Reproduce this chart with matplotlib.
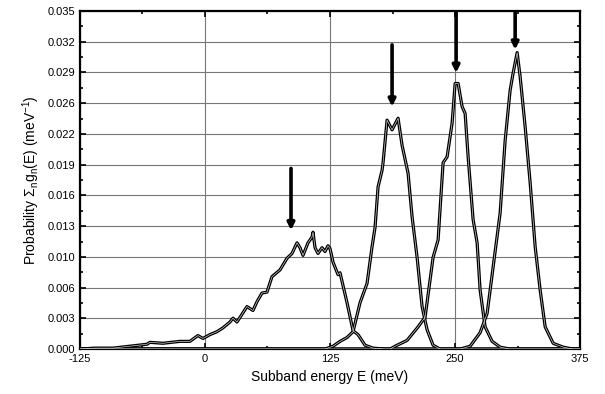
import numpy as np
import matplotlib
matplotlib.use('Agg')
import matplotlib.pyplot as plt
from matplotlib.ticker import FixedLocator, FixedFormatter

plt.rcParams['font.family'] = ['Liberation Sans', 'DejaVu Sans']
plt.rcParams['mathtext.fontset'] = 'custom'
plt.rcParams['mathtext.rm'] = 'Liberation Sans'
plt.rcParams['mathtext.it'] = 'Liberation Sans'
plt.rcParams['mathtext.default'] = 'regular'
plt.rcParams['axes.unicode_minus'] = False

# subband 1 (broad)
e1 = [-125, -110, -92, -75, -58, -55, -42, -25, -15, -7, -2, 5, 12, 18, 25, 28, 32,
      37, 42, 48, 52, 57, 62, 67, 75, 82, 87, 92, 95, 98, 103, 107, 108, 110, 113,
      117, 120, 123, 125, 128, 133, 135, 142, 148, 153, 160, 168, 180, 375]
p1 = [0.0000, 0.0001, 0.0001, 0.0003, 0.0005, 0.0007, 0.0006, 0.0008, 0.0008, 0.0014,
      0.0011, 0.0015, 0.0018, 0.0022, 0.0028, 0.0032, 0.0028, 0.0036, 0.0044, 0.0040,
      0.0049, 0.0058, 0.0059, 0.0075, 0.0082, 0.0094, 0.0099, 0.0110, 0.0105, 0.0097,
      0.0110, 0.0116, 0.0121, 0.0105, 0.0099, 0.0105, 0.0101, 0.0107, 0.0104, 0.0090,
      0.0077, 0.0079, 0.0048, 0.0019, 0.0015, 0.0004, 0.0001, 0.0000, 0.0000]

# subband 2
e2 = [-125, 120, 128, 135, 142, 148, 155, 162, 167, 170, 173, 177, 178, 182, 187,
      193, 197, 203, 207, 212, 217, 222, 228, 235, 375]
p2 = [0.0000, 0.0000, 0.0003, 0.0008, 0.0012, 0.0018, 0.0048, 0.0068, 0.0106, 0.0126,
      0.0168, 0.0185, 0.0193, 0.0237, 0.0227, 0.0239, 0.0211, 0.0182, 0.0137, 0.0095,
      0.0044, 0.0020, 0.0004, 0.0000, 0.0000]

# subband 3
e3 = [-125, 185, 190, 202, 213, 220, 228, 233, 238, 242, 247, 250, 253, 257, 260,
      263, 268, 272, 275, 280, 287, 295, 305, 375]
p3 = [0.0000, 0.0000, 0.0003, 0.0009, 0.0023, 0.0033, 0.0095, 0.0113, 0.0193, 0.0199,
      0.0234, 0.0275, 0.0275, 0.0251, 0.0244, 0.0199, 0.0134, 0.0110, 0.0061, 0.0023,
      0.0008, 0.0002, 0.0000, 0.0000]

# subband 4
e4 = [-125, 255, 265, 275, 282, 288, 295, 300, 305, 308, 312, 315, 320, 325, 330,
      335, 340, 348, 358, 368, 375]
p4 = [0.0000, 0.0000, 0.0003, 0.0017, 0.0037, 0.0085, 0.0141, 0.0216, 0.0268, 0.0286,
      0.0307, 0.0282, 0.0230, 0.0172, 0.0106, 0.0061, 0.0023, 0.0006, 0.0002, 0.0000,
      0.0000]

# arrows: x, tail, tip
arrow_x = [86, 187, 251, 310]
arrow_tail = [0.0187, 0.0315, 0.0349, 0.0349]
arrow_tip = [0.0123, 0.0251, 0.0286, 0.0310]

xticks = [-125, 0, 125, 250, 375]
yticks = np.linspace(0, 0.035, 12)
ylabels = ['0.000', '0.003', '0.006', '0.010', '0.013', '0.016', '0.019',
           '0.022', '0.026', '0.029', '0.032', '0.035']

fig = plt.figure(figsize=(6.05, 3.94), dpi=100)
ax = fig.add_axes([0.132, 0.114, 0.827, 0.858])

for e, p in [(e1, p1), (e2, p2), (e3, p3), (e4, p4)]:
    ax.plot(e, p, color='black', lw=2.3, solid_joinstyle='round', zorder=3)
    ax.plot(e, p, color='#e0e0e0', lw=0.45, zorder=4)

for x, t0, t1 in zip(arrow_x, arrow_tail, arrow_tip):
    ax.annotate('', xy=(x, t1), xytext=(x, t0),
                arrowprops=dict(arrowstyle='-|>', lw=2.6, color='black',
                                mutation_scale=10, shrinkA=0, shrinkB=0),
                zorder=5)

ax.set_xlim(-125, 375)
ax.set_ylim(0, 0.035)
ax.xaxis.set_major_locator(FixedLocator(xticks))
ax.xaxis.set_minor_locator(FixedLocator(np.arange(-125, 376, 62.5)))
ax.yaxis.set_major_locator(FixedLocator(yticks))
ax.yaxis.set_major_formatter(FixedFormatter(ylabels))
ax.yaxis.set_minor_locator(FixedLocator(yticks[:-1] + 0.035 / 22))

ax.grid(True, which='major', color='#777777', lw=0.8)
ax.tick_params(which='both', direction='in', top=True, right=True, labelsize=8,
               width=1.2, color='black')
ax.tick_params(which='major', length=4)
ax.tick_params(which='minor', length=2.5)
for s in ax.spines.values():
    s.set_linewidth(1.6)

ax.set_xlabel('Subband energy E (meV)', fontsize=10)
ax.set_ylabel(r'Probability $\Sigma_n$g$_n$(E) (meV$^{-1}$)', fontsize=10)

fig.savefig('out.png', dpi=100)
